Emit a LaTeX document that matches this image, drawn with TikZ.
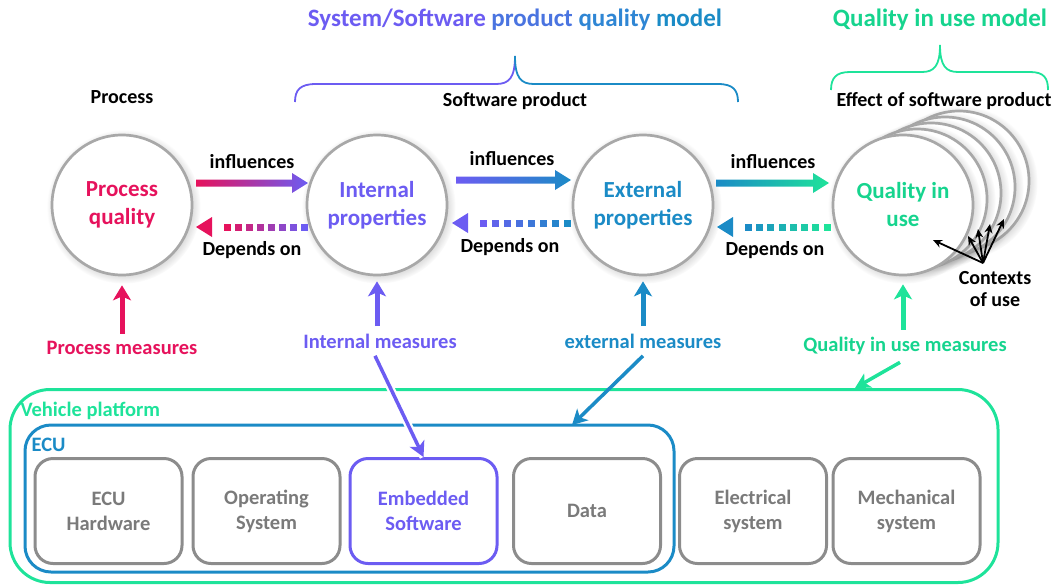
\documentclass[tikz,border=0pt]{standalone}
\usepackage{fontspec}
\setmainfont{Carlito}
\usetikzlibrary{calc,arrows.meta,shadows}
\definecolor{cPro}{HTML}{E6125C}
\definecolor{cInt}{HTML}{6C5CF2}
\definecolor{cMid}{HTML}{4A74E0}
\definecolor{cMid2}{HTML}{2F86D4}
\definecolor{cExt}{HTML}{1B8BC6}
\definecolor{cQ}{HTML}{1EE39A}
\definecolor{cQt}{HTML}{16D48E}
\definecolor{cGray}{HTML}{8C8C8C}
\definecolor{cGrayT}{HTML}{7A7A7A}
\definecolor{cRing}{HTML}{A8A8A8}
\newcommand\gradarr[4]{%
  \shade[left color=#3,right color=#4] ($(#1)+(0,-3.5)$) -- ($(#2)+(-16,-3.5)$) -- ($(#2)+(-16,-10)$) -- (#2) -- ($(#2)+(-16,10)$) -- ($(#2)+(-16,3.5)$) -- ($(#1)+(0,3.5)$) -- cycle;}
\newcommand\dotarr[4]{%
  \coordinate (tmpH) at ($(#2)+(20,0)$);
  \foreach \i in {0,...,7}{%
    \pgfmathtruncatemacro\pc{100*\i/7}%
    \fill[#4!\pc!#3] ($($(#1)!\i/8!(tmpH)$)+(-3.5,-3.5)$) rectangle ++(7,7);
  }
  \fill[#4] (#2) -- ($(#2)+(16,-10)$) -- ($(#2)+(16,10)$) -- cycle;}
\begin{document}
\begin{tikzpicture}[x=1pt,y=-1pt,
  every node/.style={font=\bfseries},
  circ/.style={circle, minimum size=140pt, inner sep=0pt, draw=cRing, line width=2.7pt, fill=white, align=center,
    circular drop shadow={shadow xshift=1.5pt, shadow yshift=-1.5pt, opacity=.35, fill=gray},
    font=\bfseries\fontsize{23}{28}\selectfont},
  lbl/.style={font=\bfseries\fontsize{20}{22}\selectfont, text=black},
  meas/.style={font=\bfseries\fontsize{20.5}{23}\selectfont},
  ttl/.style={font=\bfseries\fontsize{25}{28}\selectfont},
  ibox/.style={draw=cGray, line width=3pt, rounded corners=18pt, minimum width=147pt, minimum height=105pt,
    align=center, text=cGrayT, font=\bfseries\fontsize{20.5}{25}\selectfont},
  varrow/.style={line width=5pt, -{Stealth[length=15pt,width=18pt,inset=4pt]}},
  darrow/.style={line width=3.5pt, -{Stealth[length=15pt,width=16pt,inset=4pt]}}
]
\useasboundingbox (0,0) rectangle (1059,584);

% titles
\node[ttl] (t1) at (515,20) {\textcolor{cInt}{System/Software} \textcolor{cMid}{product} \textcolor{cMid2}{quality} \textcolor{cExt}{model}};
\node[ttl, text=cQt] (t2) at (940,20) {Quality in use model};

% braces
\draw[cInt, line width=1.8pt] (295,102) .. controls (295,90) and (300,84) .. (316,84) -- (496,84) .. controls (509,84) and (515,78) .. (515,56);
\draw[cExt, line width=1.8pt] (515,56) .. controls (515,78) and (521,84) .. (534,84) -- (718,84) .. controls (733,84) and (738,90) .. (738,102);
\draw[cQ, line width=1.8pt] (831,90) .. controls (831,78) and (836,72) .. (850,72) -- (922,72) .. controls (934,72) and (940,66) .. (940,45);
\draw[cQ, line width=1.8pt] (940,45) .. controls (940,66) and (946,72) .. (958,72) -- (1030,72) .. controls (1044,72) and (1048,78) .. (1048,90);

% group labels
\node[lbl] (lp) at (122,97) {Process};
\node[lbl] (lsp) at (515,101) {Software product};
\node[lbl] (lef) at (944,101) {Effect of software product};

% stacked circles behind quality in use
\foreach \k in {4,3,2,1}{
  \node[circ] (qb\k) at ($(903,205)+(14*\k,-6*\k)$) {};
}
% circles
\node[circ, text=cPro] (pq) at (122,205) {Process\\quality};
\node[circ, text=cInt] (ip) at (377,205) {Internal\\properties};
\node[circ, text=cExt] (ep) at (643,205) {External\\properties};
\node[circ, text=cQt] (qu) at (903,205) {Quality in\\use};

% influences arrows
\gradarr{$(pq.center)+(74,-22)$}{$(ip.center)+(-69,-22)$}{cPro}{cInt}
\gradarr{$(ip.center)+(79,-25)$}{$(ep.center)+(-72,-25)$}{cInt}{cExt}
\gradarr{$(ep.center)+(73,-22)$}{$(qu.center)+(-74,-22)$}{cExt}{cQ}
\node[lbl] (in1) at (252,162) {influences};
\node[lbl] (in2) at (512,159) {influences};
\node[lbl] (in3) at (773,162) {influences};

% depends on arrows
\dotarr{$(ip.center)+(-73,22)$}{$(pq.center)+(74,22)$}{cInt}{cPro}
\dotarr{$(ep.center)+(-76,18)$}{$(ip.center)+(75,18)$}{cExt}{cInt}
\dotarr{$(qu.center)+(-76,22)$}{$(ep.center)+(74,22)$}{cQ}{cExt}
\node[lbl] (d1) at (252,250) {Depends on};
\node[lbl] (d2) at (510,247) {Depends on};
\node[lbl] (d3) at (775,250) {Depends on};

% contexts of use
\node[lbl, align=center, font=\bfseries\fontsize{20}{22}\selectfont] (ctx) at (995,289) {Contexts\\of use};
\coordinate (cp) at (983,263);
\coordinate (c1) at (933,240);
\coordinate (c2) at (968,236);
\coordinate (c3) at (978,229);
\coordinate (c4) at (990,224);
\coordinate (c5) at (1004,219);
\foreach \c in {c1,c2,c3,c4,c5}{
  \draw[line width=1.8pt, -{Stealth[length=9pt,width=8pt]}] (cp) -- (\c);
}

% measures
\node[meas, text=cPro] (pm) at (122,348) {Process measures};
\node[meas, text=cInt] (im) at (380,341) {Internal measures};
\node[meas, text=cExt] (em) at (643,341) {external measures};
\node[meas, text=cQt] (qm) at (905,346) {Quality in use measures};

\draw[varrow, cPro] ($(pm.north)+(0,-4)$) -- ($(pq.south)+(0,9)$);
\draw[varrow, cInt] ($(im.north)+(-3,-4)$) -- ($(ip.south)+(0,5)$);
\draw[varrow, cExt] ($(em.north)+(0,-4)$) -- ($(ep.south)+(0,5)$);
\draw[varrow, cQ] ($(qm.north)+(-2,-4)$) -- ($(qu.south)+(0,8)$);

% platform boxes
\node[draw=cQ, line width=3pt, rounded corners=40pt, minimum width=988pt, minimum height=193pt] (veh) at (504,486) {};
\node[meas, text=cQ, anchor=west] (vehl) at (17,411) {Vehicle platform};
\node[draw=cExt, line width=3pt, rounded corners=26pt, minimum width=649pt, minimum height=147pt] (ecu) at (349.5,498.5) {};
\node[meas, text=cExt, anchor=west] (ecul) at (28,445) {ECU};

\node[ibox] (hw) at (108.5,511) {ECU\\Hardware};
\node[ibox] (os) at (266.5,511) {Operating\\System};
\node[ibox, draw=cInt, text=cInt] (es) at (423.5,511) {Embedded\\Software};
\node[ibox] (da) at (587,511) {Data};
\node[ibox] (el) at (753,511) {Electrical\\system};
\node[ibox] (me) at (906.5,511) {Mechanical\\system};

% measure arrows into platform
\coordinate (extIn) at (572,425);
\coordinate (qIn) at (855,388);
\draw[darrow, cInt, preaction={draw=white, line width=8pt, arrows=-}] ($(im.south)+(-5,4)$) -- (es.north);
\draw[darrow, cExt] ($(em.south)+(0,4)$) -- (extIn);
\draw[darrow, cQ] ($(qm.south)+(-5,4)$) -- (qIn);
\end{tikzpicture}
\end{document}
